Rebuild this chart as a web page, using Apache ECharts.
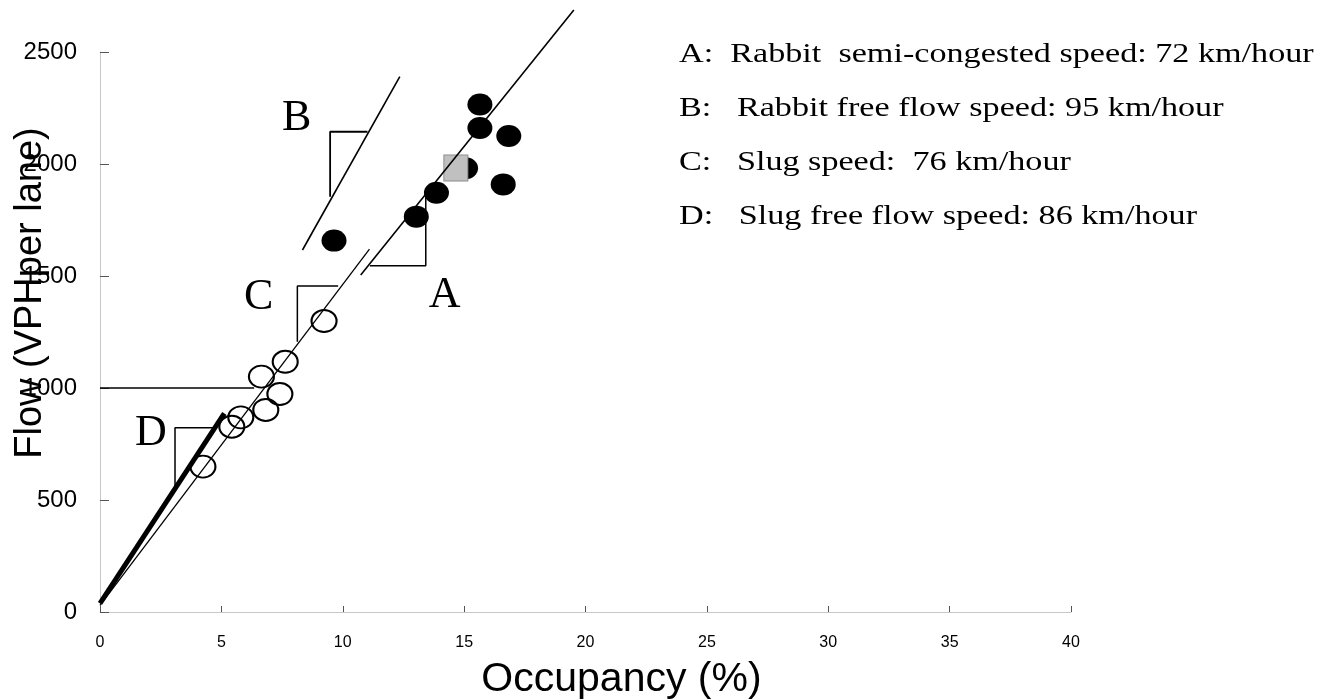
<!DOCTYPE html>
<html>
<head>
<meta charset="utf-8">
<script src="https://cdn.jsdelivr.net/npm/echarts@6/dist/echarts.min.js"></script>
<style>html,body{margin:0;padding:0;background:#fff;}#c{width:1334px;height:700px;}</style>
</head>
<body>
<div id="c"></div>
<script>
// ---- data ----
const xTicks = [0, 5, 10, 15, 20, 25, 30, 35, 40];
const yTicks = [0, 500, 1000, 1500, 2000, 2500];
const rabbitOcc  = [15.65, 15.65, 16.84, 15.06, 16.61, 13.86, 13.03, 9.64];
const rabbitFlow = [2266, 2161, 2125, 1981, 1909, 1872, 1765, 1658];
const slugOcc  = [9.23, 7.63, 6.65, 7.41, 6.83, 5.80, 5.43, 4.24];
const slugFlow = [1299, 1117, 1051, 973, 902, 869, 827, 649];
const squareOcc  = [14.66];
const squareFlow = [1982];
// speed lines (occupancy, flow)
const lineAOcc = [10.74, 19.52];  const lineAFlow = [1504, 2688];
const lineBOcc = [8.34, 12.35];   const lineBFlow = [1616, 2390];
const lineCOcc = [0, 11.1];       const lineCFlow = [30, 1620];
const lineDOcc = [0, 5.12];       const lineDFlow = [39, 887];
const ref1000Occ = [0, 6.35];     const ref1000Flow = [1000, 1000];
// slope brackets
const brAOcc = [11.12, 13.42, 13.42]; const brAFlow = [1546, 1546, 1854];
const brBOcc = [11.02, 9.48, 9.48];   const brBFlow = [2144, 2144, 1854];
const brCOcc = [9.81, 8.13, 8.13];    const brCFlow = [1455, 1455, 1207];
const brDOcc = [4.70, 3.09, 3.09];    const brDFlow = [823, 823, 552];
// bracket letters
const letterText = ['A', 'B', 'C', 'D'];
const letterOcc  = [14.2, 8.1, 6.54, 2.1];
const letterFlow = [1411, 2205, 1406, 799];
const notes = [
  'A:  Rabbit  semi-congested speed: 72 km/hour',
  'B:   Rabbit free flow speed: 95 km/hour',
  'C:   Slug speed:  76 km/hour',
  'D:   Slug free flow speed: 86 km/hour'
];

const zip = (a, b) => a.map((v, i) => [v, b[i]]);
const lineSeries = (occ, flow, w) => ({
  type: 'line', data: zip(occ, flow), showSymbol: false, symbol: 'none',
  clip: false, silent: true, animation: false,
  lineStyle: {color: '#000', width: w}
});

const chart = echarts.init(document.getElementById('c'), null, {renderer: 'canvas'});
chart.setOption({
  backgroundColor: '#fff',
  animation: false,
  grid: {left: 100, right: 263, top: 52, bottom: 88, containLabel: false, outerBoundsMode: 'none'},
  xAxis: {
    type: 'value', min: 0, max: 40, interval: 5,
    name: 'Occupancy (%)', nameLocation: 'middle', nameGap: 47, nameMoveOverlap: false,
    nameTextStyle: {fontFamily: 'Liberation Sans, Arial', fontSize: 41, color: '#000', padding: [0, 0, 0, 72]},
    axisLine: {lineStyle: {color: '#c8c8c8', width: 1}},
    axisTick: {inside: true, length: 6, lineStyle: {color: '#555'}},
    axisLabel: {fontFamily: 'Liberation Sans, Arial', fontSize: 16, color: '#000', margin: 23,
      formatter: v => xTicks.includes(v) ? String(v) : ''},
    splitLine: {show: false}
  },
  yAxis: {
    type: 'value', min: 0, max: 2500, interval: 500,
    name: 'Flow (VPHper lane)', nameLocation: 'middle', nameGap: 50, nameRotate: 90, nameMoveOverlap: false,
    nameTextStyle: {fontFamily: 'Liberation Sans, Arial', fontSize: 38, color: '#000', padding: [0, 0, 0, 78]},
    axisLine: {show: true, lineStyle: {color: '#c8c8c8', width: 1}},
    axisTick: {show: true, inside: true, length: 9, lineStyle: {color: '#555'}},
    axisLabel: {fontFamily: 'Liberation Sans, Arial', fontSize: 24, color: '#000', margin: 23,
      formatter: v => yTicks.includes(v) ? String(v) : ''},
    splitLine: {show: false}
  },
  series: [
    lineSeries(ref1000Occ, ref1000Flow, 1.5),
    lineSeries(lineAOcc, lineAFlow, 1.6),
    lineSeries(lineBOcc, lineBFlow, 1.6),
    lineSeries(lineCOcc, lineCFlow, 1.3),
    lineSeries(lineDOcc, lineDFlow, 5),
    lineSeries(brAOcc, brAFlow, 1.5),
    lineSeries(brBOcc, brBFlow, 1.8),
    lineSeries(brCOcc, brCFlow, 1.5),
    lineSeries(brDOcc, brDFlow, 1.5),
    {
      type: 'scatter', name: 'Rabbit', data: zip(rabbitOcc, rabbitFlow),
      symbol: 'circle', symbolSize: [25, 22],
      itemStyle: {color: '#000', opacity: 1}
    },
    {
      type: 'scatter', name: 'Slug', data: zip(slugOcc, slugFlow),
      symbol: 'circle', symbolSize: [25, 22],
      itemStyle: {color: 'rgba(0,0,0,0)', borderColor: '#000', borderWidth: 2, opacity: 1}
    },
    {
      type: 'scatter', name: 'Marker', data: zip(squareOcc, squareFlow),
      symbol: 'rect', symbolSize: [24, 26],
      itemStyle: {color: '#c0c0c0', borderColor: '#8c8c8c', borderWidth: 1, opacity: 1}
    },
    {
      type: 'scatter', name: 'Letters', silent: true,
      data: letterOcc.map((v, i) => ({value: [v, letterFlow[i]], name: letterText[i]})),
      symbolSize: 1, itemStyle: {color: 'rgba(0,0,0,0)', opacity: 1},
      label: {show: true, position: 'inside', formatter: p => p.name, opacity: 1,
        fontFamily: 'Liberation Serif, Times New Roman', fontSize: 44, color: '#000', textBorderWidth: 0}
    }
  ],
  graphic: notes.map((t, i) => ({
    type: 'text', left: 679, top: 41 + i * 54, scaleX: 1.22, originX: 0,
    style: {text: t, font: '28px "Liberation Serif", "Times New Roman", serif', fill: '#000'}
  }))
});
</script>
</body>
</html>
